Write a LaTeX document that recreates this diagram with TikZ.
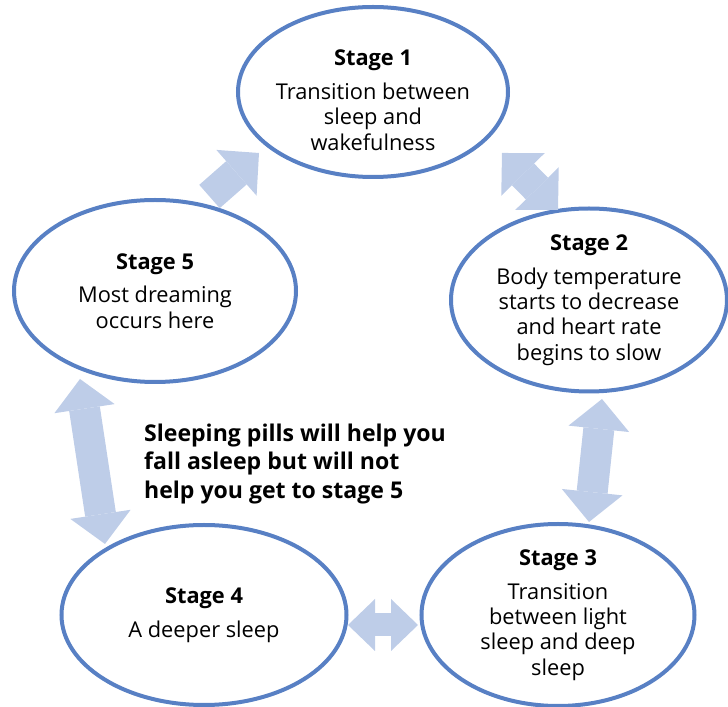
\documentclass[tikz,border=0pt]{standalone}
\usepackage{fontspec}
\setmainfont{Open Sans}
\usetikzlibrary{arrows.meta,shapes.geometric}

\definecolor{stageblue}{RGB}{88,128,196}
\definecolor{arrowblue}{RGB}{190,205,232}

\tikzset{
  Block/.tip={Triangle[width=1.525cm,length=0.75cm,line width=0pt]},
  SmallBlock/.tip={Triangle[width=1.3cm,length=0.675cm,line width=0pt]},
  stage/.style={ellipse, draw=stageblue, line width=0.1cm, fill=white,
    align=center, inner sep=-0.35cm, font=\fontsize{15.5}{18}\selectfont},
  oneway/.style={draw=arrowblue, line width=0.775cm, -Block},
  twoway/.style={draw=arrowblue, line width=0.775cm, Block-Block},
  shortway/.style={draw=arrowblue, line width=0.575cm, SmallBlock-SmallBlock},
  note/.style={align=left, inner sep=0pt, font=\bfseries\fontsize{16.4}{20}\selectfont}
}

\begin{document}
\begin{tikzpicture}
\useasboundingbox (0,0) rectangle (18.2,-17.675);

% the five stages
\node[stage, minimum width=6.75cm, minimum height=4.25cm] (s1) at (9.325,-2.3)
  {\rule{0pt}{0.8cm}\textbf{Stage 1}\\[6pt]Transition between\\sleep and\\wakefulness};
\node[stage, minimum width=6.9cm, minimum height=4.575cm] (s2) at (14.725,-7.5)
  {\textbf{Stage 2}\\[6pt]Body temperature\\starts to decrease\\and heart rate\\begins to slow};
\node[stage, minimum width=6.825cm, minimum height=4.55cm] (s3) at (13.95,-15.375)
  {\textbf{Stage 3}\\[6pt]Transition\\between light\\sleep and deep\\sleep};
\node[stage, minimum width=7.125cm, minimum height=4.5cm] (s4) at (5.1,-15.375)
  {\textbf{Stage 4}\\[6pt]A deeper sleep};
\node[stage, minimum width=7.05cm, minimum height=4.55cm] (s5) at (3.875,-7.275)
  {\textbf{Stage 5}\\[6pt]Most dreaming\\occurs here};

\node[note] (pills) at (7.375,-11.6)
  {Sleeping pills will help you\\fall asleep but will not\\help you get to stage 5};

% arrow ends
\coordinate (s5top) at (5.2375,-4.9125);
\coordinate (s1left) at (6.475,-3.825);
\coordinate (s1right) at (12.55,-3.825);
\coordinate (s2top) at (13.95,-5.25);
\coordinate (s2bot) at (15.05,-9.975);
\coordinate (s3top) at (14.725,-13.05);
\coordinate (s5bot) at (2.0,-9.475);
\coordinate (s4top) at (2.625,-13.6);
\coordinate (s4right) at (8.7,-15.625);
\coordinate (s3left) at (10.45,-15.625);

% arrows
\draw[oneway] (s5top) -- (s1left);
\draw[twoway] (s1right) -- (s2top);
\draw[twoway] (s2bot) -- (s3top);
\draw[twoway] (s5bot) -- (s4top);
\draw[shortway] (s4right) -- (s3left);
\end{tikzpicture}
\end{document}
